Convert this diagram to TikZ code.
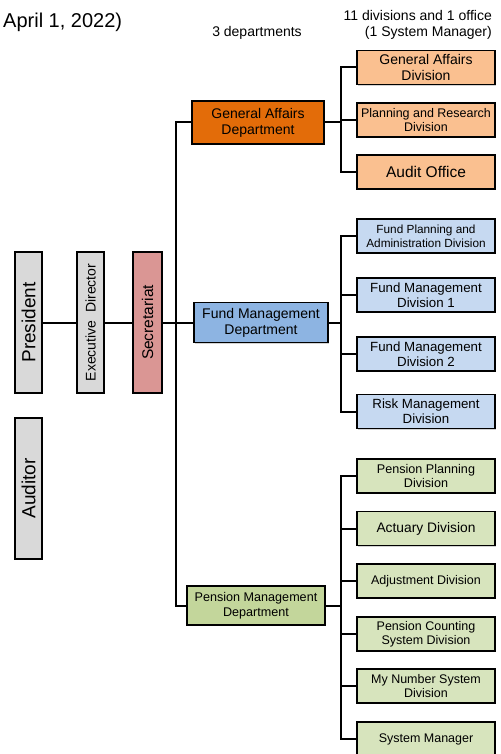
\documentclass[tikz,border=0pt]{standalone}
\usepackage{fontspec}
\setmainfont{Liberation Sans}
\usetikzlibrary{shadows}
\definecolor{grayb}{HTML}{D9D9D9}
\definecolor{secr}{HTML}{DA9694}
\definecolor{gadept}{HTML}{E36C09}
\definecolor{gadiv}{HTML}{FAC090}
\definecolor{fundept}{HTML}{8DB4E2}
\definecolor{fundiv}{HTML}{C6D9F1}
\definecolor{pendept}{HTML}{C3D69B}
\definecolor{pendiv}{HTML}{D7E4BD}
\newcommand{\fs}[1]{\fontsize{#1}{\fpeval{#1*1.15}}\selectfont}
\tikzset{
  box/.style={draw=black, line width=1.5pt, inner sep=0pt, align=center,
    drop shadow={shadow xshift=1.2pt, shadow yshift=-1.2pt, opacity=0.35}},
  vbox/.style={box, rotate=90, minimum width=141pt, minimum height=27pt},
  divbox/.style={box, minimum width=138pt, minimum height=34pt},
  conn/.style={line width=2pt, draw=black},
  hdr/.style={inner sep=0pt}
}
\begin{document}
\begin{tikzpicture}[x=1pt,y=-1pt]
\useasboundingbox (0,0) rectangle (500,754);

% header texts
\node[hdr, anchor=west, font={\fs{20}}] (date) at (3,22) {April 1, 2022)};
\node[hdr, font={\fs{14}}] (depts) at (257,33) {3 departments};
\node[hdr, anchor=east, font={\fs{14}}] (divs1) at (492,15) {11 divisions and 1 office};
\node[hdr, anchor=east, font={\fs{14}}] (divs2) at (492,33) {(1 System Manager)};

% left column
\node[vbox, fill=grayb, font={\fs{19}}] (pres) at (28.5,322.5) {President};
\node[vbox, fill=grayb, font={\fs{14}}] (exec) at (90.5,322.5) {Executive\ \ Director};
\node[vbox, fill=secr, minimum height=29pt, font={\fs{15.5}}] (sec) at (147.5,322.5) {Secretariat};
\node[vbox, fill=grayb, font={\fs{19}}] (aud) at (28.5,488.5) {Auditor};

% departments
\node[box, fill=gadept, minimum width=132pt, minimum height=43pt, font={\fs{14}}] (ga) at (258,122.5)
  {General Affairs\\Department};
\node[box, fill=fundept, minimum width=134pt, minimum height=40pt, font={\fs{14}}] (fund) at (261,322.5)
  {Fund Management\\Department};
\node[box, fill=pendept, minimum width=138pt, minimum height=39pt, font={\fs{12.6}}] (pen) at (256,605.5)
  {Pension Management\\Department};

% general affairs divisions
\node[divbox, fill=gadiv, font={\fs{14}}] (ga1) at (426,67.5) {General Affairs\\Division};
\node[divbox, fill=gadiv, font={\fs{12.5}}] (ga2) at (426,120) {Planning and Research\\Division};
\node[divbox, fill=gadiv, font={\fs{15.5}}] (ga3) at (426,172) {Audit Office};

% fund divisions
\node[divbox, fill=fundiv, font={\fs{11.8}}] (fd1) at (426,236) {Fund Planning and\\Administration Division};
\node[divbox, fill=fundiv, font={\fs{13.3}}] (fd2) at (426,295) {Fund Management\\Division 1};
\node[divbox, fill=fundiv, font={\fs{13.3}}] (fd3) at (426,354) {Fund Management\\Division 2};
\node[divbox, fill=fundiv, font={\fs{13.3}}] (fd4) at (426,411.5) {Risk Management\\Division};

% pension divisions
\node[divbox, fill=pendiv, font={\fs{12.6}}] (pd1) at (426,476) {Pension Planning\\Division};
\node[divbox, fill=pendiv, font={\fs{13.8}}] (pd2) at (426,528.5) {Actuary Division};
\node[divbox, fill=pendiv, font={\fs{12.5}}] (pd3) at (426,581) {Adjustment Division};
\node[divbox, fill=pendiv, font={\fs{12.5}}] (pd4) at (426,634) {Pension Counting\\System Division};
\node[divbox, fill=pendiv, font={\fs{12.5}}] (pd5) at (426,686) {My Number System\\Division};
\node[divbox, fill=pendiv, font={\fs{12.5}}] (pd6) at (426,739) {System Manager};

% connector coordinates
\coordinate (trunk) at (176,0);
\coordinate (br) at (341,0);

% connectors
\draw[conn] (pres) -- (exec);
\draw[conn] (exec) -- (sec);
\draw[conn] (sec) -- (fund);
\draw[conn] (ga.west) -- (ga.west -| trunk) -- (pen.west -| trunk) -- (pen.west);

\draw[conn] (ga1.west) -- (ga1.west -| br) -- (ga3.west -| br) -- (ga3.west);
\draw[conn] (ga.east) -- (ga.east -| br);
\draw[conn] (ga2.west) -- (ga2.west -| br);

\draw[conn] (fd1.west) -- (fd1.west -| br) -- (fd4.west -| br) -- (fd4.west);
\draw[conn] (fund.east) -- (fund.east -| br);
\draw[conn] (fd2.west) -- (fd2.west -| br);
\draw[conn] (fd3.west) -- (fd3.west -| br);

\draw[conn] (pd1.west) -- (pd1.west -| br) -- (pd6.west -| br) -- (pd6.west);
\draw[conn] (pen.east) -- (pen.east -| br);
\draw[conn] (pd2.west) -- (pd2.west -| br);
\draw[conn] (pd3.west) -- (pd3.west -| br);
\draw[conn] (pd4.west) -- (pd4.west -| br);
\draw[conn] (pd5.west) -- (pd5.west -| br);
\end{tikzpicture}
\end{document}
